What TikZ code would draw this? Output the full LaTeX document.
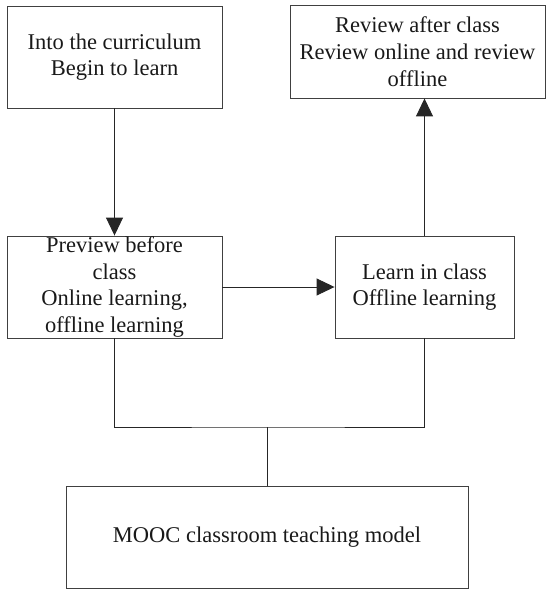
\documentclass[tikz,border=0pt]{standalone}
\usepackage{fontspec}
\setmainfont{Liberation Serif}
\usetikzlibrary{arrows.meta}
\begin{document}
\begin{tikzpicture}[x=1bp,y=-1bp,
  box/.style={draw=black!75,line width=0.9bp,rectangle,align=center,inner sep=0pt,
    font=\fontsize{22.5bp}{26.7bp}\selectfont,text=black!90},
  conn/.style={draw=black!85,line width=0.9bp},
  arr/.style={conn,-{Triangle[length=18bp,width=17bp]}}]
\useasboundingbox (0,0) rectangle (552,589);
\node[box,minimum width=215bp,minimum height=102bp] (b1) at (114.5,57) {Into the curriculum\\Begin to learn};
\node[box,minimum width=255bp,minimum height=93bp] (b2) at (417.5,51.5) {Review after class\\Review online and review\\offline};
\node[box,minimum width=215bp,minimum height=102bp] (b3) at (114.5,287) {Preview before\\class\\Online learning,\\offline learning};
\node[box,minimum width=179bp,minimum height=102bp] (b4) at (424.5,287) {Learn in class\\Offline learning};
\node[box,minimum width=402bp,minimum height=102bp] (b5) at (267,537) {MOOC classroom teaching model};
\coordinate (j) at (267,427);
\draw[arr] (b1.south) -- (b3.north);
\draw[arr] (b3.east) -- (b4.west);
\draw[arr] (b4.north) -- (b4.north |- b2.south);
\draw[conn] (b3.south) |- (j) -| (b4.south);
\draw[conn] (j) -- (b5.north);
\end{tikzpicture}
\end{document}
